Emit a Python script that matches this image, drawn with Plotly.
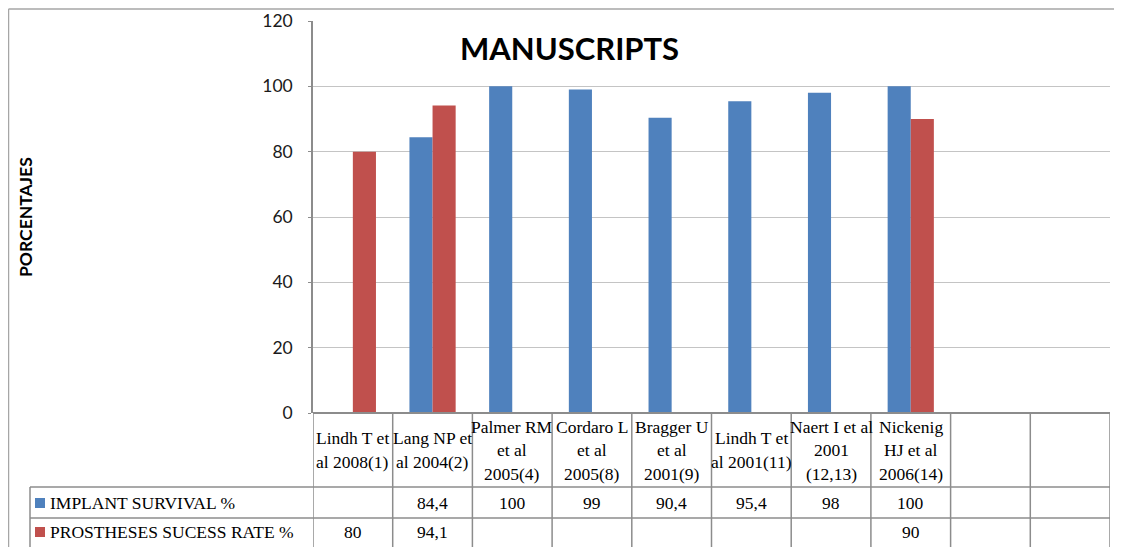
import plotly.graph_objects as go

# ---- data ----
categories = [
    "Lindh T et<br>al 2008(1)",
    "Lang NP et<br>al 2004(2)",
    "Palmer RM<br>et al<br>2005(4)",
    "Cordaro L<br>et al<br>2005(8)",
    "Bragger U<br>et al<br>2001(9)",
    "Lindh T et<br>al 2001(11)",
    "Naert I et al<br>2001<br>(12,13)",
    "Nickenig<br>HJ et al<br>2006(14)",
    "",
    "",
]
implant_survival = [None, 84.4, 100, 99, 90.4, 95.4, 98, 100, None, None]
prostheses_success = [80, 94.1, None, None, None, None, None, 90, None, None]
series_names = ["IMPLANT SURVIVAL %", "PROSTHESES SUCESS RATE %"]
series_colors = ["#4F81BD", "#C0504D"]
y_ticks = [0, 20, 40, 60, 80, 100, 120]

W, H = 1122, 547
OFF = 8  # page body margin offset
def py(p):  # pixel y (screen) -> paper
    return 1 - (p - OFF) / H
def px(p):
    return (p - OFF) / W

PLOT_L, PLOT_R, PLOT_T, PLOT_B = 313, 1110, 21, 413
n = len(categories)
xs = list(range(n))
TFONT = 17.5

fig = go.Figure()
for name, vals, col in zip(series_names, [implant_survival, prostheses_success], series_colors):
    fig.add_trace(go.Bar(x=xs, y=vals, name=name, marker=dict(color=col, line=dict(width=0)),
                         showlegend=False))

fig.update_layout(
    width=W, height=H, autosize=False, margin=dict(l=0, r=0, t=0, b=0, pad=0),
    paper_bgcolor="white", plot_bgcolor="white",
    barmode="group", bargap=0.42, bargroupgap=0,
    xaxis=dict(domain=[px(PLOT_L), px(PLOT_R)], range=[-0.5, n - 0.5], automargin=False,
               showticklabels=False, showgrid=False, zeroline=False, showline=False),
    yaxis=dict(domain=[py(PLOT_B), py(PLOT_T)], range=[0, 120], tickvals=y_ticks, automargin=False,
               showgrid=True, gridcolor="#c4c4c4", gridwidth=1, zeroline=False,
               showline=True, linecolor="#8c8c8c", linewidth=1.5,
               ticks="outside", ticklen=3, tickcolor="#8c8c8c",
               tickfont=dict(family="Lato", size=17.5, color="#1a1a1a"),
               ticklabelstandoff=12),
    font=dict(family="Liberation Serif"),
)

shapes = []
LC = "#8c8c8c"
LW = 1.5
# outer chart border
shapes.append(dict(type="line", xref="paper", yref="paper", x0=px(8.5), x1=1, y0=py(9), y1=py(9),
                   line=dict(color="#a6a6a6", width=1.5)))
shapes.append(dict(type="line", xref="paper", yref="paper", x0=px(8.5), x1=px(8.5), y0=py(9), y1=0,
                   line=dict(color="#a6a6a6", width=1.5)))
# table
ROW1, ROW2, ROW3 = 413, 487, 518
shapes.append(dict(type="line", xref="x", yref="paper", x0=-0.5, x1=n - 0.5, y0=py(ROW1), y1=py(ROW1),
                   line=dict(color=LC, width=2)))
for yy in (ROW2, ROW3):
    shapes.append(dict(type="line", xref="paper", yref="paper", x0=px(30), x1=px(PLOT_R), y0=py(yy), y1=py(yy),
                       line=dict(color=LC, width=LW)))
for i in range(n + 1):
    shapes.append(dict(type="line", xref="x", yref="paper", x0=i - 0.5, x1=i - 0.5, y0=py(ROW1), y1=0,
                       line=dict(color=LC, width=LW)))
shapes.append(dict(type="line", xref="paper", yref="paper", x0=px(30), x1=px(30), y0=py(ROW2), y1=0,
                   line=dict(color=LC, width=LW)))
# legend keys
for k, (col, yc) in enumerate(zip(series_colors, [503, 532])):
    shapes.append(dict(type="rect", xref="paper", yref="paper", x0=px(35), x1=px(45),
                       y0=py(yc + 5), y1=py(yc - 5), fillcolor=col, line=dict(width=0)))

annotations = []
# title
annotations.append(dict(text="<b>MANUSCRIPTS</b>", xref="paper", yref="paper", x=px(569), y=py(48),
                        showarrow=False, xanchor="center", yanchor="middle",
                        font=dict(family="Lato", size=31, color="black", weight=900)))
# y-axis title
annotations.append(dict(text="<b>PORCENTAJES</b>", xref="paper", yref="paper", x=px(25), y=py(217),
                        showarrow=False, textangle=-90, xanchor="center", yanchor="middle",
                        font=dict(family="Lato", size=17.5, color="black")))
# header labels
LINE_H = 23.5
for i, lab in enumerate(categories):
    if not lab:
        continue
    lines = lab.split("<br>")
    c = (ROW1 + ROW2) / 2
    start = c - LINE_H * (len(lines) - 1) / 2
    for j, t in enumerate(lines):
        annotations.append(dict(text=t, xref="x", yref="paper", x=i, y=py(start + j * LINE_H),
                                showarrow=False, xanchor="center", yanchor="middle",
                                font=dict(family="Liberation Serif", size=TFONT, color="black")))

def fmt(v):
    if v is None:
        return ""
    if float(v).is_integer():
        return str(int(v))
    return str(v).replace(".", ",")

for name, vals, yc in zip(series_names, [implant_survival, prostheses_success], [503, 532]):
    annotations.append(dict(text=name, xref="paper", yref="paper", x=px(48), y=py(yc),
                            showarrow=False, xanchor="left", yanchor="middle",
                            font=dict(family="Liberation Serif", size=TFONT, color="black")))
    for i, v in enumerate(vals):
        if v is None:
            continue
        annotations.append(dict(text=fmt(v), xref="x", yref="paper", x=i, y=py(yc),
                                showarrow=False, xanchor="center", yanchor="middle",
                                font=dict(family="Liberation Serif", size=TFONT, color="black")))

fig.update_layout(shapes=shapes, annotations=annotations)
fig.write_html("out.html")
